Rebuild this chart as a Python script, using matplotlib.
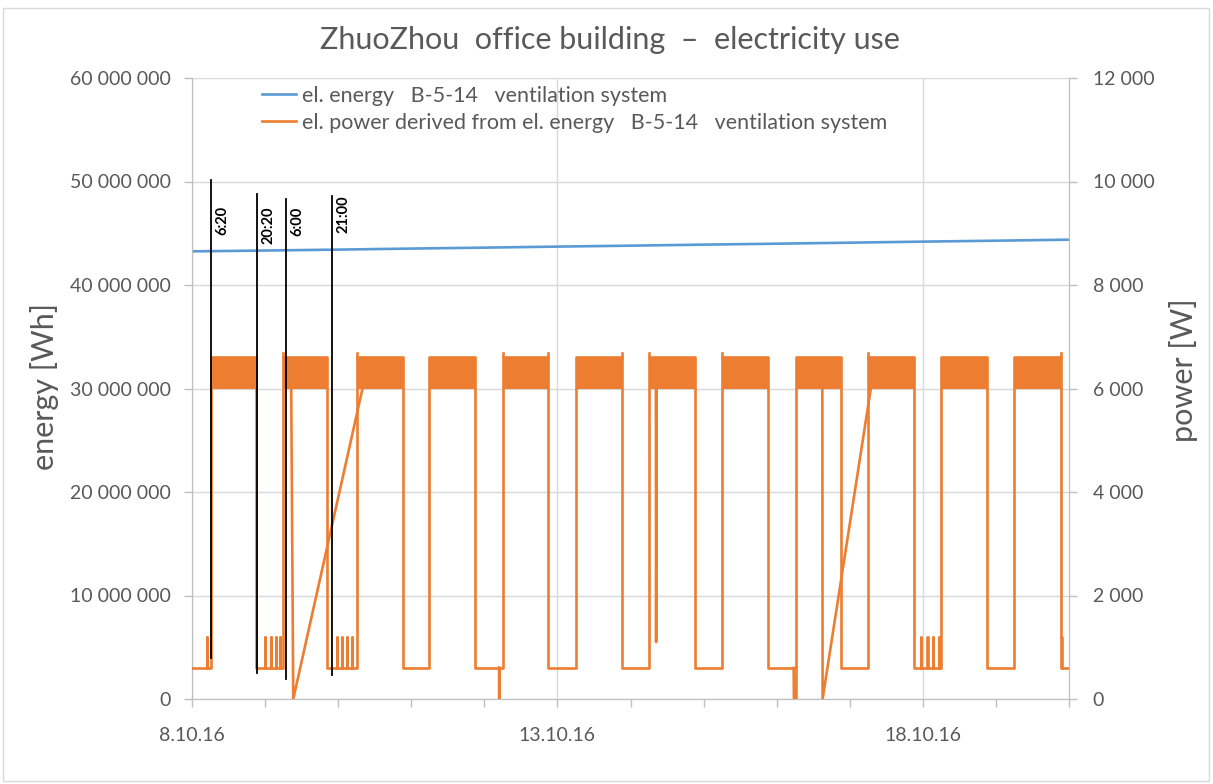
import matplotlib
matplotlib.use("Agg")
import matplotlib.pyplot as plt
import matplotlib.dates as mdates
import matplotlib.ticker as mticker
from matplotlib.lines import Line2D
from matplotlib.patches import Rectangle
import pandas as pd

plt.rcParams["font.family"] = ["Lato", "DejaVu Sans"]

# Colours
TEXT = "#595959"
GRID = "#D9D9D9"
AXIS = "#BFBFBF"
BLUE = "#5B9BD5"
ORANGE = "#ED7D31"
LW = 1.9

# Energy meter reading (Wh) at midnight, 8.10.16 .. 20.10.16
energy_time = ["2016-10-08", "2016-10-09", "2016-10-10", "2016-10-11", "2016-10-12",
               "2016-10-13", "2016-10-14", "2016-10-15", "2016-10-16", "2016-10-17",
               "2016-10-18", "2016-10-19", "2016-10-20"]
energy_wh = [43.25e6, 43.33e6, 43.42e6, 43.52e6, 43.61e6, 43.71e6, 43.80e6,
             43.90e6, 43.99e6, 44.09e6, 44.19e6, 44.28e6, 44.38e6]

# Derived power: ventilation on-periods (oscillating 6000..6600 W), 600 W at night
on_start = ["2016-10-08 06:10", "2016-10-09 06:00", "2016-10-10 06:05", "2016-10-11 05:55",
            "2016-10-12 06:00", "2016-10-13 06:05", "2016-10-14 06:05", "2016-10-15 05:55",
            "2016-10-16 06:30", "2016-10-17 06:05", "2016-10-18 05:55", "2016-10-19 06:00"]
on_end = ["2016-10-08 20:55", "2016-10-09 20:25", "2016-10-10 21:10", "2016-10-11 20:55",
          "2016-10-12 21:00", "2016-10-13 21:15", "2016-10-14 21:10", "2016-10-15 21:15",
          "2016-10-16 21:05", "2016-10-17 21:10", "2016-10-18 20:55", "2016-10-19 21:15"]
P_OFF = 600
P_BAND_LO = 6000
P_BAND_HI = 6600
P_SPIKE = 1200

# short 1200 W peaks during some nights
night_spikes = ["2016-10-08 04:50",
                "2016-10-09 00:00", "2016-10-09 01:50", "2016-10-09 03:30", "2016-10-09 04:55",
                "2016-10-09 23:30", "2016-10-10 01:10", "2016-10-10 02:45", "2016-10-10 04:25",
                "2016-10-17 23:20", "2016-10-18 01:30", "2016-10-18 03:20", "2016-10-18 05:20"]

# short overshoots above the band at switching
overshoot_time = ["2016-10-09 06:00", "2016-10-10 06:05", "2016-10-12 06:00", "2016-10-12 21:00",
                  "2016-10-13 21:15", "2016-10-14 06:05", "2016-10-15 05:55", "2016-10-17 06:05",
                  "2016-10-19 21:15"]
P_OVERSHOOT = 6680

# data gaps / glitches in the derived power
glitch_time = [
    ["2016-10-09 08:35", "2016-10-09 09:15", "2016-10-10 08:00"],
    ["2016-10-12 04:50", "2016-10-12 04:53", "2016-10-12 04:56"],
    ["2016-10-14 08:20", "2016-10-14 08:25", "2016-10-14 08:35"],
    ["2016-10-16 05:35", "2016-10-16 05:40", "2016-10-16 06:30", "2016-10-16 06:30"],
    ["2016-10-16 15:00", "2016-10-16 15:05", "2016-10-17 06:55"],
    ["2016-10-19 21:15", "2016-10-19 21:45", "2016-10-19 21:45"],
]
glitch_power = [
    [6000, 0, 6000],
    [600, 0, 600],
    [6000, 1100, 6000],
    [600, 0, 0, 600],
    [6000, 0, 6000],
    [1200, 1200, 600],
]

# hand-drawn time markers (energy-axis units)
marker_time = ["2016-10-08 06:14", "2016-10-08 21:20", "2016-10-09 06:46", "2016-10-09 21:52"]
marker_label = ["6:20", "20:20", "6:00", "21:00"]
marker_bottom = [3.96e6, 2.5e6, 1.93e6, 2.3e6]
marker_top = [50.1e6, 48.8e6, 48.3e6, 48.6e6]
marker_text_top = [47.6e6, 47.6e6, 47.6e6, 48.7e6]

t0 = pd.Timestamp("2016-10-08")
t1 = pd.Timestamp("2016-10-20")

# build the power polyline
items = [(pd.Timestamp(t), None) for t in night_spikes]
items += [(pd.Timestamp(s), pd.Timestamp(e)) for s, e in zip(on_start, on_end)]
items.sort(key=lambda it: it[0])
px, py = [t0], [P_OFF]
for t, e in items:
    if e is None:
        t2 = t + pd.Timedelta(minutes=8)
        px += [t, t, t2, t2]
        py += [P_OFF, P_SPIKE, P_SPIKE, P_OFF]
    else:
        px += [t, t, e, e]
        py += [P_OFF, P_BAND_HI, P_BAND_HI, P_OFF]
px.append(t1)
py.append(P_OFF)

fig = plt.figure(figsize=(12.13, 7.84), dpi=100)
ax = fig.add_axes([192 / 1213, 1 - 699 / 784, (1069 - 192) / 1213, (699 - 78) / 784])
ax2 = ax.twinx()

# energy (left axis)
ax.plot(pd.to_datetime(energy_time), energy_wh, color=BLUE, lw=LW, zorder=3)
ax.set_ylim(0, 60e6)
ax.set_yticks(range(0, 60000001, 10000000))
ax.yaxis.set_major_formatter(mticker.FuncFormatter(lambda v, p: f"{int(v):,}".replace(",", " ")))
ax.grid(axis="y", color=GRID, lw=1)
ax.grid(axis="x", which="major", color=GRID, lw=1)
ax.set_axisbelow(True)

# power (right axis)
ax2.plot(px, py, color=ORANGE, lw=LW, zorder=3)
for s, e in zip(on_start, on_end):
    ax2.fill_between([pd.Timestamp(s), pd.Timestamp(e)], P_BAND_LO, P_BAND_HI,
                     color=ORANGE, lw=0, zorder=3)
for t in overshoot_time:
    t = pd.Timestamp(t)
    ax2.plot([t, t], [P_BAND_HI, P_OVERSHOOT], color=ORANGE, lw=LW, zorder=3)
for gt, gp in zip(glitch_time, glitch_power):
    ax2.plot(pd.to_datetime(gt), gp, color=ORANGE, lw=LW, zorder=3)
ax2.set_ylim(0, 12000)
ax2.set_yticks(range(0, 12001, 2000))
ax2.yaxis.set_major_formatter(mticker.FuncFormatter(lambda v, p: f"{int(v):,}".replace(",", " ")))

# markers
for t, lab, yb, yt, ytxt in zip(marker_time, marker_label, marker_bottom, marker_top, marker_text_top):
    t = pd.Timestamp(t)
    ax2.plot([t, t], [yb / 5000, yt / 5000], color="black", lw=1.3, zorder=5)
    ax2.annotate(lab, (t, ytxt / 5000), xytext=(3.5, 0), textcoords="offset points",
                 rotation=90, ha="left", va="top", fontsize=10.5, fontweight="bold",
                 color="black", zorder=6)

# x axis
ax.set_xlim(t0, t1)
ax.xaxis.set_major_locator(mdates.DayLocator(bymonthday=[8, 13, 18]))
ax.xaxis.set_minor_locator(mdates.DayLocator())
ax.xaxis.set_major_formatter(mticker.FuncFormatter(
    lambda v, p: f"{mdates.num2date(v).day}.{mdates.num2date(v).month}.{mdates.num2date(v):%y}"))

for a in (ax, ax2):
    a.spines["top"].set_visible(False)
    for side in ("left", "right", "bottom"):
        a.spines[side].set_color(AXIS)
    a.tick_params(which="both", colors=AXIS, labelcolor=TEXT, labelsize=14, length=6, width=1)
ax.tick_params(axis="x", which="both", pad=14)
ax.tick_params(axis="y", pad=9)
ax2.tick_params(axis="y", pad=11)

# titles & labels
fig.text(610 / 1213, 1 - 40 / 784, "ZhuoZhou  office building  \u2013  electricity use",
         ha="center", va="center", fontsize=22, color=TEXT)
fig.text(45 / 1213, 1 - 386 / 784, "energy [Wh]", rotation=90, ha="center", va="center",
         fontsize=22, color=TEXT)
fig.text(1183 / 1213, 1 - 370 / 784, "power [W]", rotation=90, ha="center", va="center",
         fontsize=22, color=TEXT)

handles = [Line2D([], [], color=BLUE, lw=LW), Line2D([], [], color=ORANGE, lw=LW)]
labels = ["el. energy   B-5-14   ventilation system",
          "el. power derived from el. energy   B-5-14   ventilation system"]
fig.legend(handles, labels, loc="upper left", bbox_to_anchor=(262 / 1213, 1 - 86 / 784),
           frameon=False, fontsize=15.5, labelcolor=TEXT, handlelength=1.6,
           handletextpad=0.25, borderpad=0, borderaxespad=0, labelspacing=0.32)

fig.add_artist(Rectangle((3 / 1213, 3 / 784), 1 - 7 / 1213, 1 - 11 / 784,
                         transform=fig.transFigure, fill=False, ec=GRID, lw=1))

fig.savefig("out.png", dpi=100)
